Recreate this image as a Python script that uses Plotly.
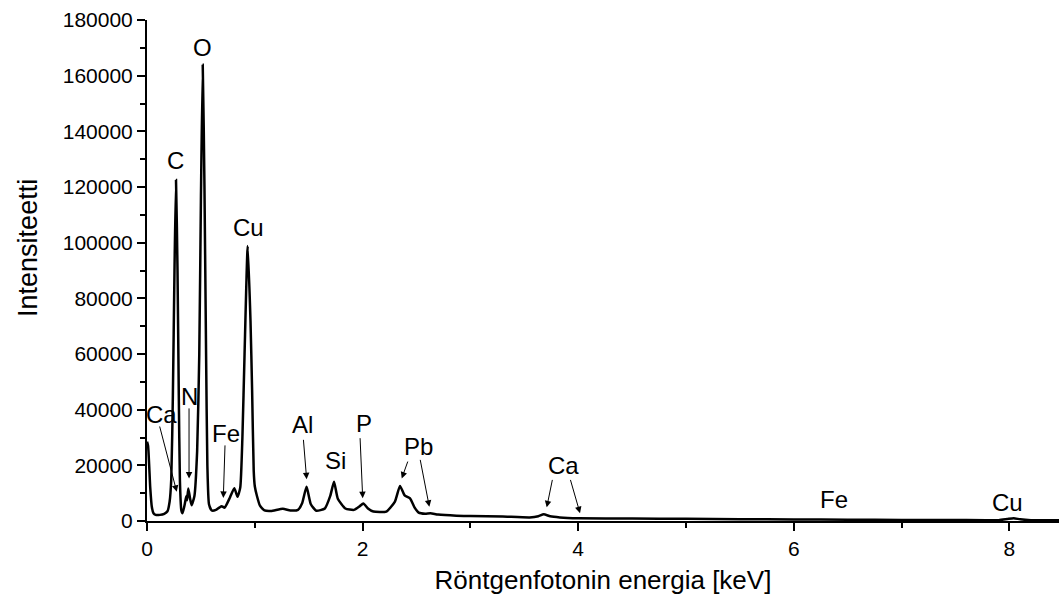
import plotly.graph_objects as go

# Spectrum (energy keV, intensity counts)
energy = [0.000, 0.010, 0.030, 0.045, 0.060, 0.080, 0.120, 0.160, 0.190, 0.210,
          0.225, 0.240, 0.255, 0.269, 0.283, 0.295, 0.305, 0.318, 0.330, 0.350,
          0.365, 0.372, 0.383, 0.400, 0.414, 0.440, 0.465, 0.485, 0.500, 0.517,
          0.533, 0.548, 0.560, 0.575, 0.600, 0.640, 0.670, 0.693, 0.720, 0.770,
          0.810, 0.840, 0.865, 0.885, 0.905, 0.934, 0.960, 0.975, 0.990, 1.000,
          1.020, 1.048, 1.090, 1.150, 1.260, 1.330, 1.400, 1.440, 1.480, 1.520,
          1.570, 1.650, 1.700, 1.735, 1.770, 1.840, 1.920, 1.970, 2.007, 2.050,
          2.100, 2.220, 2.300, 2.347, 2.390, 2.440, 2.480, 2.520, 2.580, 2.630,
          2.700, 2.870, 3.000, 3.300, 3.550, 3.630, 3.680, 3.740, 3.830, 4.000,
          4.500, 5.000, 5.500, 6.000, 6.500, 7.000, 7.500, 7.900, 7.980, 8.040,
          8.100, 8.200, 8.460]
intensity = [28500, 27000, 12000, 5000, 2800, 2200, 2200, 2600, 3500, 7000,
             15000, 45000, 90000, 122500, 90000, 45000, 15000, 4000, 2800, 6000,
             9000, 7500, 11700, 8000, 5700, 9000, 25000, 60000, 115000, 163900,
             120000, 60000, 20000, 6000, 3800, 4000, 4800, 5300, 4800, 8500,
             11800, 8700, 12000, 30000, 60000, 98800, 72000, 47000, 18000, 12500,
             9000, 5500, 3800, 3600, 4400, 3800, 4000, 6500, 12300, 6000,
             3700, 4500, 9000, 14100, 8000, 4500, 4000, 5200, 6300, 4500,
             3400, 3400, 7000, 12600, 9200, 8100, 5000, 3000, 2600, 2800,
             2300, 1900, 1800, 1600, 1300, 1700, 2400, 1700, 1300, 1000,
             900, 800, 650, 550, 450, 400, 350, 300, 700, 1000,
             600, 300, 250]

# Peak labels: (text, x, y)
labels = [("O", 0.519, 170300), ("C", 0.26, 129700), ("Cu", 0.937, 105600),
          ("Ca", 0.139, 38400), ("N", 0.394, 44900), ("Fe", 0.733, 31600),
          ("Al", 1.438, 34500), ("Si", 1.753, 21900), ("P", 2.013, 34900),
          ("Pb", 2.514, 26900), ("Ca", 3.859, 19800), ("Fe", 6.373, 7900),
          ("Cu", 7.978, 6500)]
# Arrows: (tail_x, tail_y, tip_x, tip_y)
arrows = [(0.114, 34500, 0.276, 10500), (0.39, 41000, 0.39, 15300),
          (0.724, 27700, 0.708, 8300), (1.45, 29700, 1.481, 15000),
          (1.976, 30300, 2.001, 8200), (2.424, 21900, 2.363, 15300),
          (2.532, 22500, 2.619, 5100), (3.763, 15300, 3.708, 4900),
          (3.924, 15300, 4.017, 2800)]

FONT = "Liberation Sans, Arial, sans-serif"

fig = go.Figure()
fig.add_trace(go.Scatter(x=energy, y=intensity, mode="lines",
                         line=dict(color="black", width=2.5, shape="spline", smoothing=0.5),
                         showlegend=False, hoverinfo="skip"))

ann = []
for t, x, y in labels:
    ann.append(dict(text=t, x=x, y=y, xref="x", yref="y", showarrow=False,
                    font=dict(size=24, color="black", family=FONT)))
for tx, ty, hx, hy in arrows:
    ann.append(dict(text="", x=hx, y=hy, ax=tx, ay=ty, xref="x", yref="y",
                    axref="x", ayref="y", showarrow=True, arrowhead=2,
                    arrowsize=1.3, arrowwidth=1, arrowcolor="black", standoff=0))
# y-axis title (placed as in the reference, slightly above the plot centre)
ann.append(dict(text="Intensiteetti", x=-0.1305, y=0.545, xref="paper", yref="paper",
                textangle=-90, showarrow=False, xanchor="center", yanchor="middle",
                font=dict(size=27, color="black", family=FONT)))

fig.update_layout(
    width=1059, height=604,
    margin=dict(l=147, r=0, t=20, b=83),
    paper_bgcolor="white", plot_bgcolor="white",
    font=dict(family=FONT, color="black", size=21),
    annotations=ann,
    xaxis=dict(range=[0, 8.46], tickmode="linear", tick0=0, dtick=2,
               showline=True, linecolor="black", linewidth=2,
               ticks="outside", ticklen=8, tickwidth=2, tickcolor="black",
               minor=dict(dtick=1, ticks="outside", ticklen=5, tickwidth=2, tickcolor="black"),
               showgrid=False, zeroline=False,
               tickfont=dict(size=21),
               title=dict(text="Röntgenfotonin energia [keV]", font=dict(size=26), standoff=12)),
    yaxis=dict(range=[0, 180000], tickmode="linear", tick0=0, dtick=20000,
               tickformat="d",
               showline=True, linecolor="black", linewidth=2,
               ticks="outside", ticklen=8, tickwidth=2, tickcolor="black",
               minor=dict(dtick=10000, ticks="outside", ticklen=5, tickwidth=2, tickcolor="black"),
               showgrid=False, zeroline=False,
               tickfont=dict(size=21)),
)

fig.write_html("out.html")
